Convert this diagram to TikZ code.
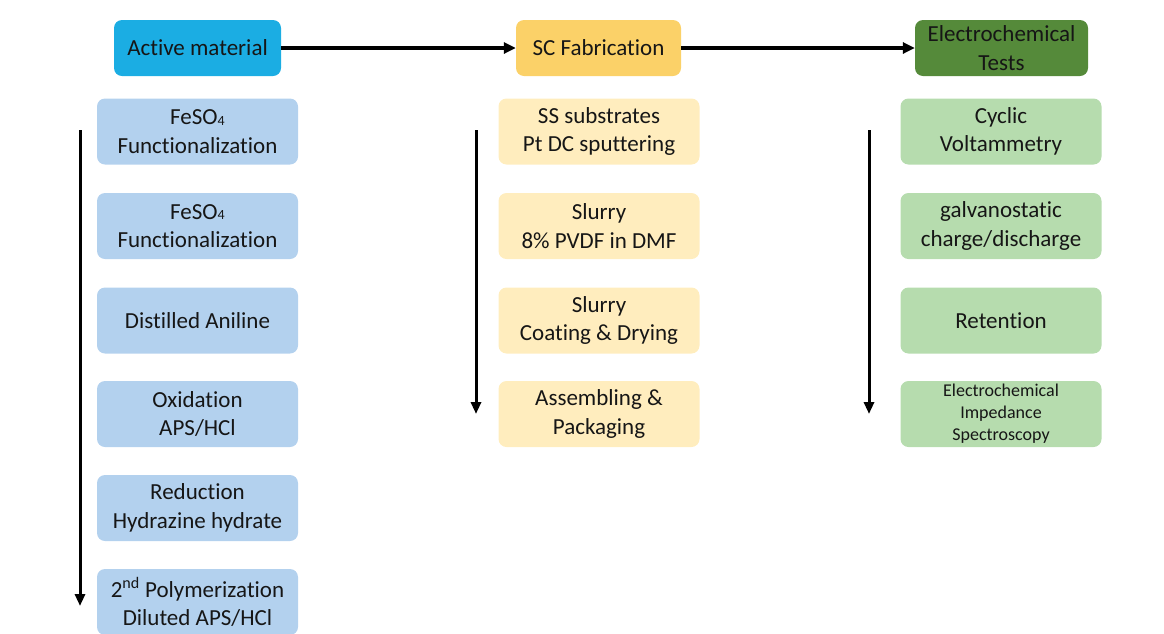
\documentclass[tikz,border=0pt]{standalone}
\usepackage{fontspec}
\setmainfont{Carlito}[Ligatures=NoCommon]
\usetikzlibrary{arrows.meta}

\definecolor{hdrblue}{HTML}{1BADE3}
\definecolor{hdryellow}{HTML}{FBD168}
\definecolor{hdrgreen}{HTML}{558A3A}
\definecolor{stepblue}{HTML}{B3D1EE}
\definecolor{stepyellow}{HTML}{FFEDBE}
\definecolor{stepgreen}{HTML}{B6DCAE}
\definecolor{inktext}{HTML}{161616}

\newcommand{\lowfour}{\raisebox{-0.5pt}{\fontsize{14}{14}\selectfont 4}}

\tikzset{
  box/.style={rounded corners=8pt, inner sep=0pt, align=center, text=inktext,
    font=\fontsize{23}{28.5}\selectfont},
  header/.style={box, minimum height=56pt},
  stepbox/.style={box, minimum width=201pt, minimum height=66pt},
  flow/.style={line width=3.5pt, -{Triangle[length=12pt,width=11pt]}},
  seq/.style={line width=3pt, -{Triangle[length=12pt,width=10pt]}},
}

\begin{document}
\begin{tikzpicture}[x=1pt,y=-1pt]
\useasboundingbox (0,0) rectangle (1164,633);

% column headers
\node[header, fill=hdrblue, minimum width=167pt] (act) at (197.5,48) {Active material};
\node[header, fill=hdryellow, minimum width=165pt] (fab) at (598.5,48) {SC Fabrication};
\node[header, fill=hdrgreen, minimum width=173pt] (ect) at (1001.5,48) {Electrochemical\\Tests};

\draw[flow] (act.east) -- (fab.west);
\draw[flow] (fab.east) -- (ect.west);

% active material synthesis steps
\node[stepbox, fill=stepblue] (a1) at (197.5,131.5) {FeSO\lowfour\\Functionalization};
\node[stepbox, fill=stepblue] (a2) at (197.5,226) {FeSO\lowfour\\Functionalization};
\node[stepbox, fill=stepblue] (a3) at (197.5,320.5) {Distilled Aniline};
\node[stepbox, fill=stepblue] (a4) at (197.5,414) {Oxidation\\APS/HCl};
\node[stepbox, fill=stepblue] (a5) at (197.5,508) {Reduction\\Hydrazine hydrate};
\node[stepbox, fill=stepblue] (a6) at (197.5,602) {2\textsuperscript{nd} Polymerization\\Diluted APS/HCl};

% supercapacitor fabrication steps
\node[stepbox, fill=stepyellow] (f1) at (599,131.5) {SS substrates\\Pt DC sputtering};
\node[stepbox, fill=stepyellow] (f2) at (599,226) {Slurry\\8\% PVDF in DMF};
\node[stepbox, fill=stepyellow] (f3) at (599,320.5) {Slurry\\Coating \& Drying};
\node[stepbox, fill=stepyellow] (f4) at (599,414) {Assembling \&\\Packaging};

% electrochemical tests
\node[stepbox, fill=stepgreen] (e1) at (1001,131.5) {Cyclic\\Voltammetry};
\node[stepbox, fill=stepgreen] (e2) at (1001,226) {galvanostatic\\charge/discharge};
\node[stepbox, fill=stepgreen] (e3) at (1001,320.5) {Retention};
\node[stepbox, fill=stepgreen, font=\fontsize{18}{22}\selectfont] (e4) at (1001,414)
  {Electrochemical\\Impedance\\Spectroscopy};

% sequence arrows
\coordinate (as) at (80,130);  \coordinate (ae) at (80,606);
\coordinate (fs) at (476,130); \coordinate (fe) at (476,414);
\coordinate (es) at (869,130); \coordinate (ee) at (869,414);
\draw[seq] (as) -- (ae);
\draw[seq] (fs) -- (fe);
\draw[seq] (es) -- (ee);
\end{tikzpicture}
\end{document}
